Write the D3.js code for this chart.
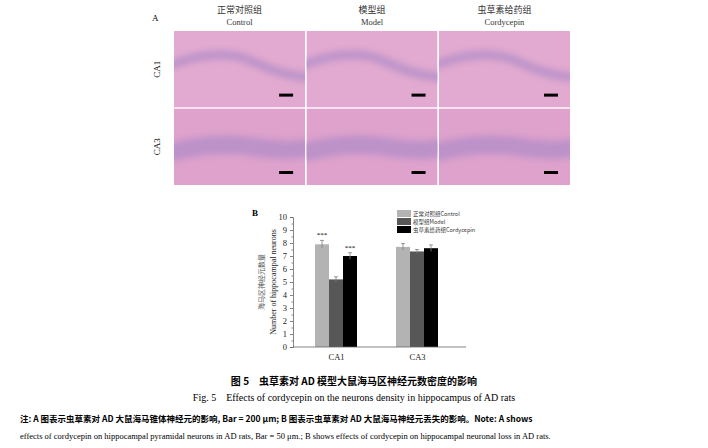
<!DOCTYPE html>
<html><head><meta charset="utf-8">
<script src="https://cdn.jsdelivr.net/npm/d3@7"></script>
<style>body{margin:0;background:#fff}svg{display:block}</style>
</head><body><svg id="c" width="708" height="448"></svg>
<script>
const groups = ['CA1', 'CA3'];
const seriesNames = ['正常对照组Control', '模型组Model', '虫草素给药组Cordycepin'];
const seriesColors = ['#b3b3b3', '#575757', '#000000'];
const means = [[7.9, 5.2, 7.0], [7.7, 7.35, 7.6]];
const errs = [[0.3, 0.2, 0.25], [0.25, 0.15, 0.25]];
const stars = [['***', '', '***'], ['', '', '']];
const yTicks = [0, 1, 2, 3, 4, 5, 6, 7, 8, 9, 10];
const panelCols = [['正常对照组', 'Control'], ['模型组', 'Model'], ['虫草素给药组', 'Cordycepin']];
const panelRows = ['CA1', 'CA3'];

const svg = d3.select('#c');
const serif = '"Liberation Serif","DejaVu Serif",serif';
const cjk = '"Noto Sans CJK SC",sans-serif';

// ---- panel A: histology grid (drawn as tinted tiles) ----
const gx = d3.scaleBand().domain(d3.range(3)).range([174, 570]).paddingInner(0.01);
const gy = d3.scaleBand().domain(d3.range(2)).range([31, 185]).paddingInner(0.01);
svg.append('text').attr('x', 152).attr('y', 21).attr('font-family', serif).attr('font-size', 9).text('A');
panelCols.forEach((c, i) => {
  const cx = gx(i) + gx.bandwidth() / 2;
  svg.append('text').attr('x', cx).attr('y', 13).attr('text-anchor', 'middle')
    .attr('font-family', cjk).attr('font-size', 9).attr('fill', '#333').text(c[0]);
  svg.append('text').attr('x', cx).attr('y', 25).attr('text-anchor', 'middle')
    .attr('font-family', serif).attr('font-size', 8.5).attr('fill', '#333').text(c[1]);
});
panelRows.forEach((r, j) => {
  const cy = gy(j) + gy.bandwidth() / 2;
  svg.append('text').attr('transform', `translate(160,${cy}) rotate(-90)`).attr('text-anchor', 'middle')
    .attr('font-family', serif).attr('font-size', 9).text(r);
});
const defs = svg.append('defs');
defs.append('filter').attr('id', 'bl').attr('filterUnits', 'userSpaceOnUse')
  .attr('x', 0).attr('y', 0).attr('width', 708).attr('height', 200)
  .append('feGaussianBlur').attr('stdDeviation', 3);
d3.range(2).forEach(j => d3.range(3).forEach(i => {
  const x = gx(i), y = gy(j), w = gx.bandwidth(), h = gy.bandwidth();
  const clip = defs.append('clipPath').attr('id', `cl${j}${i}`);
  clip.append('rect').attr('x', x).attr('y', y).attr('width', w).attr('height', h);
  const tile = svg.append('g').attr('clip-path', `url(#cl${j}${i})`);
  tile.append('rect').attr('x', x).attr('y', y).attr('width', w).attr('height', h).attr('fill', j === 0 ? '#e2aad0' : '#dea2cc');
  const band = j === 0
    ? `M${x - 5},${y + h * 0.45} Q${x + w * 0.35},${y + h * 0.2} ${x + w * 0.6},${y + h * 0.4} T${x + w + 5},${y + h * 0.6}`
    : `M${x - 5},${y + h * 0.58} Q${x + w * 0.3},${y + h * 0.42} ${x + w * 0.6},${y + h * 0.5} T${x + w + 5},${y + h * 0.5}`;
  tile.append('path').attr('d', band).attr('fill', 'none').attr('stroke', '#b08cc8')
    .attr('stroke-width', j === 0 ? 9 : 18).attr('opacity', 0.75).attr('filter', 'url(#bl)');
  svg.append('rect').attr('x', x + w - 26).attr('y', y + h - 14).attr('width', 14).attr('height', 3).attr('fill', '#000');
}));

// ---- panel B: bar chart ----
const x0 = d3.scalePoint().domain(groups).range([336, 417]);
const x1 = d3.scaleBand().domain(d3.range(3)).range([-21, 21]);
const y = d3.scaleLinear().domain([0, 10]).range([347, 217]);

svg.append('text').attr('x', 252).attr('y', 216).attr('font-family', serif).attr('font-size', 9).attr('font-weight', 'bold').text('B');

const g = svg.append('g');
groups.forEach((grp, gi) => {
  means[gi].forEach((v, si) => {
    const bx = x0(grp) + x1(si), bw = x1.bandwidth();
    g.append('rect').attr('x', bx).attr('y', y(v)).attr('width', bw).attr('height', y(0) - y(v)).attr('fill', seriesColors[si]);
    const cx = bx + bw / 2, e = errs[gi][si];
    g.append('path').attr('d', `M${cx},${y(v + e)}V${y(v - e)}M${cx - 2},${y(v + e)}H${cx + 2}`)
      .attr('stroke', '#808080').attr('stroke-width', 0.8);
    if (stars[gi][si]) g.append('text').attr('x', cx).attr('y', y(v + e) - 3).attr('text-anchor', 'middle')
      .attr('font-family', serif).attr('font-size', 7).text(stars[gi][si]);
  });
});

svg.append('g').attr('transform', 'translate(293,0)')
  .call(d3.axisLeft(y).tickValues(yTicks).tickSize(3).tickFormat(d3.format('d')));
svg.append('g').attr('transform', 'translate(293,0)')
  .call(d3.axisLeft(y).tickValues(d3.range(0.5, 10, 1)).tickSize(1.5).tickFormat(''))
  .select('.domain').remove();
const xa = svg.append('g').attr('transform', 'translate(0,347)')
  .call(d3.axisBottom(x0).tickSize(0).tickPadding(7));
xa.select('.domain').attr('d', 'M293,0H466');
svg.selectAll('.domain, .tick line').attr('stroke', '#666').attr('stroke-width', 0.8);
svg.selectAll('.tick text').attr('font-family', serif).attr('font-size', 8.5).attr('fill', '#222');

svg.append('text').attr('transform', 'translate(264,282) rotate(-90)').attr('text-anchor', 'middle')
  .attr('font-family', cjk).attr('font-size', 7).attr('fill', '#555').text('海马区神经元数量');
svg.append('text').attr('transform', 'translate(276,282) rotate(-90)').attr('text-anchor', 'middle')
  .attr('font-family', serif).attr('font-size', 8).attr('fill', '#222').text('Number of hippocampal neurons');

seriesNames.forEach((n, i) => {
  const ly = 210 + i * 8;
  svg.append('rect').attr('x', 397).attr('y', ly).attr('width', 14).attr('height', 7).attr('fill', seriesColors[i]);
  svg.append('text').attr('x', 413).attr('y', ly + 6).attr('font-family', cjk).attr('font-size', 5.5).attr('fill', '#333').text(n);
});

// ---- caption ----
svg.append('text').attr('x', 354).attr('y', 385).attr('text-anchor', 'middle').attr('font-family', cjk)
  .attr('font-size', 10).attr('font-weight', 'bold').text('图 5　虫草素对 AD 模型大鼠海马区神经元数密度的影响');
svg.append('text').attr('x', 354).attr('y', 401).attr('text-anchor', 'middle').attr('font-family', serif)
  .attr('font-size', 10).text('Fig. 5　Effects of cordycepin on the neurons density in hippocampus of AD rats');
svg.append('text').attr('x', 20).attr('y', 422).attr('font-family', cjk).attr('font-size', 8.5).attr('font-weight', 'bold')
  .text('注: A 图表示虫草素对 AD 大鼠海马锥体神经元的影响, Bar = 200 μm; B 图表示虫草素对 AD 大鼠海马神经元丢失的影响。Note: A shows');
svg.append('text').attr('x', 20).attr('y', 439).attr('font-family', serif).attr('font-size', 8.5)
  .text('effects of cordycepin on hippocampal pyramidal neurons in AD rats, Bar = 50 μm.; B shows effects of cordycepin on hippocampal neuronal loss in AD rats.');
</script></body></html>
